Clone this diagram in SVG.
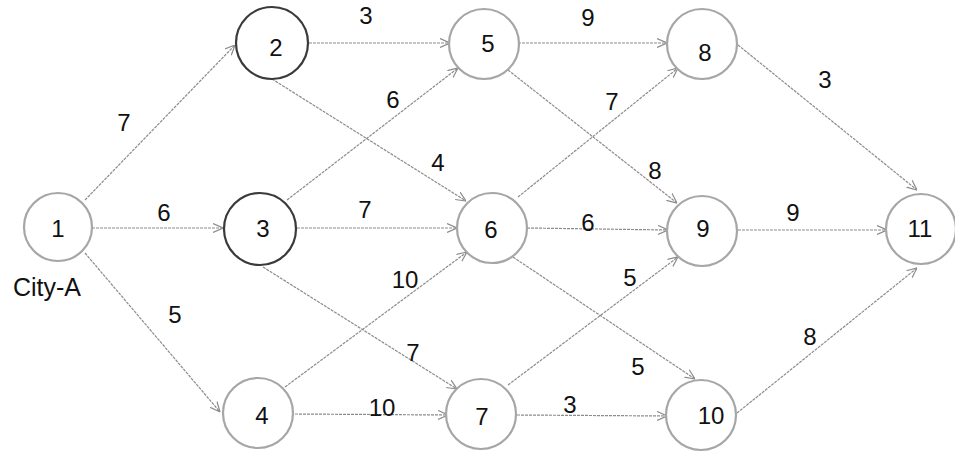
<svg xmlns="http://www.w3.org/2000/svg" width="955" height="455" viewBox="0 0 955 455">
<defs>
<style>
.bg{fill:#fff}
.node circle{fill:#fff;stroke:#a6a6a6;stroke-width:2.2}
.node.dark circle{stroke:#3a3a3a;stroke-width:2.2}
text{font-family:"Liberation Sans",Arial,sans-serif;font-size:24px;fill:#111;text-anchor:middle}
.edges line{stroke:#8c8c8c;stroke-width:1.2;stroke-dasharray:3 1;marker-end:url(#arr)}
</style>
<marker id="arr" viewBox="0 0 10 10" refX="10" refY="5" markerWidth="10" markerHeight="10" markerUnits="userSpaceOnUse" orient="auto">
<path d="M0,0.5 L10,5 L0,9.5" fill="none" stroke="#8c8c8c" stroke-width="1.2"/>
</marker>
</defs>
<rect class="bg" x="0" y="0" width="955" height="455"/>
<g id="connectors" class="edges">
<line x1="85" y1="200" x2="235" y2="45"/>
<line x1="92" y1="228" x2="223" y2="228"/>
<line x1="85" y1="253" x2="220" y2="412"/>
<line x1="309" y1="43" x2="450" y2="43"/>
<line x1="272" y1="79" x2="466" y2="201"/>
<line x1="287" y1="200" x2="458" y2="68"/>
<line x1="297" y1="228" x2="457" y2="228"/>
<line x1="263" y1="267" x2="457" y2="389"/>
<line x1="285" y1="387" x2="467" y2="252"/>
<line x1="295" y1="414" x2="448" y2="415"/>
<line x1="518" y1="43" x2="667" y2="43"/>
<line x1="508" y1="70" x2="677" y2="203"/>
<line x1="518" y1="197" x2="678" y2="68"/>
<line x1="527" y1="228" x2="668" y2="230"/>
<line x1="513" y1="257" x2="695" y2="379"/>
<line x1="508" y1="385" x2="678" y2="257"/>
<line x1="517" y1="415" x2="667" y2="416"/>
<line x1="738" y1="45" x2="917" y2="190"/>
<line x1="738" y1="230" x2="887" y2="230"/>
<line x1="737" y1="413" x2="917" y2="268"/>
</g>
<g id="edge-labels">
<text x="124" y="131">7</text>
<text x="164" y="221">6</text>
<text x="175" y="323">5</text>
<text x="366" y="24">3</text>
<text x="393" y="108">6</text>
<text x="438" y="171">4</text>
<text x="365" y="218">7</text>
<text x="405" y="288">10</text>
<text x="413" y="361">7</text>
<text x="382" y="416">10</text>
<text x="588" y="26">9</text>
<text x="612" y="110">7</text>
<text x="655" y="179">8</text>
<text x="825" y="88">3</text>
<text x="588" y="231">6</text>
<text x="793" y="221">9</text>
<text x="630" y="286">5</text>
<text x="638" y="375">5</text>
<text x="810" y="345">8</text>
<text x="570" y="413">3</text>
</g>
<g id="node-1" class="node"><circle cx="58" cy="227" r="34"/><text x="58" y="237">1</text></g>
<text id="city-a" x="47" y="296" style="font-size:25px">City-A</text>
<g id="node-2" class="node dark"><circle cx="272" cy="43" r="36"/><text x="276" y="56">2</text></g>
<g id="node-3" class="node dark"><circle cx="260" cy="229" r="36"/><text x="263" y="237">3</text></g>
<g id="node-4" class="node"><circle cx="258" cy="413" r="35"/><text x="262" y="424">4</text></g>
<g id="node-5" class="node"><circle cx="484" cy="44" r="35"/><text x="488" y="52">5</text></g>
<g id="node-6" class="node"><circle cx="492" cy="228" r="35"/><text x="491" y="238">6</text></g>
<g id="node-7" class="node"><circle cx="481" cy="414" r="35"/><text x="482" y="425">7</text></g>
<g id="node-8" class="node"><circle cx="702" cy="44" r="35"/><text x="705" y="61">8</text></g>
<g id="node-9" class="node"><circle cx="702" cy="231" r="35"/><text x="703" y="237">9</text></g>
<g id="node-10" class="node"><circle cx="701" cy="415" r="35"/><text x="711" y="424">10</text></g>
<g id="node-11" class="node"><circle cx="921" cy="229" r="35"/><text x="920" y="237">11</text></g>
</svg>
